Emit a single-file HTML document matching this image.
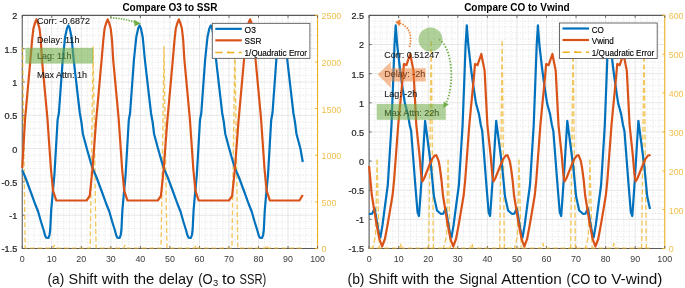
<!DOCTYPE html>
<html><head><meta charset="utf-8"><style>
html,body{margin:0;padding:0;background:#fff;}
body{width:685px;height:288px;overflow:hidden;}
svg{display:block;filter:blur(0.4px);}
text{font-family:"Liberation Sans",sans-serif;}
</style></head><body>
<svg width="685" height="288" viewBox="0 0 685 288" font-family="Liberation Sans, sans-serif">
<rect width="685" height="288" fill="#fff"/>
<g stroke="#d9d9d9" stroke-width="0.7" stroke-dasharray="1 1.6"><line x1="28.16" y1="15.4" x2="28.16" y2="248.5"/><line x1="34.06" y1="15.4" x2="34.06" y2="248.5"/><line x1="39.97" y1="15.4" x2="39.97" y2="248.5"/><line x1="45.87" y1="15.4" x2="45.87" y2="248.5"/><line x1="57.69" y1="15.4" x2="57.69" y2="248.5"/><line x1="63.59" y1="15.4" x2="63.59" y2="248.5"/><line x1="69.5" y1="15.4" x2="69.5" y2="248.5"/><line x1="75.4" y1="15.4" x2="75.4" y2="248.5"/><line x1="87.22" y1="15.4" x2="87.22" y2="248.5"/><line x1="93.12" y1="15.4" x2="93.12" y2="248.5"/><line x1="99.03" y1="15.4" x2="99.03" y2="248.5"/><line x1="104.93" y1="15.4" x2="104.93" y2="248.5"/><line x1="116.75" y1="15.4" x2="116.75" y2="248.5"/><line x1="122.65" y1="15.4" x2="122.65" y2="248.5"/><line x1="128.56" y1="15.4" x2="128.56" y2="248.5"/><line x1="134.46" y1="15.4" x2="134.46" y2="248.5"/><line x1="146.28" y1="15.4" x2="146.28" y2="248.5"/><line x1="152.18" y1="15.4" x2="152.18" y2="248.5"/><line x1="158.09" y1="15.4" x2="158.09" y2="248.5"/><line x1="163.99" y1="15.4" x2="163.99" y2="248.5"/><line x1="175.81" y1="15.4" x2="175.81" y2="248.5"/><line x1="181.71" y1="15.4" x2="181.71" y2="248.5"/><line x1="187.62" y1="15.4" x2="187.62" y2="248.5"/><line x1="193.52" y1="15.4" x2="193.52" y2="248.5"/><line x1="205.34" y1="15.4" x2="205.34" y2="248.5"/><line x1="211.24" y1="15.4" x2="211.24" y2="248.5"/><line x1="217.15" y1="15.4" x2="217.15" y2="248.5"/><line x1="223.05" y1="15.4" x2="223.05" y2="248.5"/><line x1="234.87" y1="15.4" x2="234.87" y2="248.5"/><line x1="240.77" y1="15.4" x2="240.77" y2="248.5"/><line x1="246.68" y1="15.4" x2="246.68" y2="248.5"/><line x1="252.58" y1="15.4" x2="252.58" y2="248.5"/><line x1="264.4" y1="15.4" x2="264.4" y2="248.5"/><line x1="270.3" y1="15.4" x2="270.3" y2="248.5"/><line x1="276.21" y1="15.4" x2="276.21" y2="248.5"/><line x1="282.11" y1="15.4" x2="282.11" y2="248.5"/><line x1="293.93" y1="15.4" x2="293.93" y2="248.5"/><line x1="299.83" y1="15.4" x2="299.83" y2="248.5"/><line x1="305.74" y1="15.4" x2="305.74" y2="248.5"/><line x1="311.64" y1="15.4" x2="311.64" y2="248.5"/><line x1="22.25" y1="241.84" x2="317.55" y2="241.84"/><line x1="22.25" y1="235.18" x2="317.55" y2="235.18"/><line x1="22.25" y1="228.52" x2="317.55" y2="228.52"/><line x1="22.25" y1="221.86" x2="317.55" y2="221.86"/><line x1="22.25" y1="208.54" x2="317.55" y2="208.54"/><line x1="22.25" y1="201.88" x2="317.55" y2="201.88"/><line x1="22.25" y1="195.22" x2="317.55" y2="195.22"/><line x1="22.25" y1="188.56" x2="317.55" y2="188.56"/><line x1="22.25" y1="175.24" x2="317.55" y2="175.24"/><line x1="22.25" y1="168.58" x2="317.55" y2="168.58"/><line x1="22.25" y1="161.92" x2="317.55" y2="161.92"/><line x1="22.25" y1="155.26" x2="317.55" y2="155.26"/><line x1="22.25" y1="141.94" x2="317.55" y2="141.94"/><line x1="22.25" y1="135.28" x2="317.55" y2="135.28"/><line x1="22.25" y1="128.62" x2="317.55" y2="128.62"/><line x1="22.25" y1="121.96" x2="317.55" y2="121.96"/><line x1="22.25" y1="108.64" x2="317.55" y2="108.64"/><line x1="22.25" y1="101.98" x2="317.55" y2="101.98"/><line x1="22.25" y1="95.32" x2="317.55" y2="95.32"/><line x1="22.25" y1="88.66" x2="317.55" y2="88.66"/><line x1="22.25" y1="75.34" x2="317.55" y2="75.34"/><line x1="22.25" y1="68.68" x2="317.55" y2="68.68"/><line x1="22.25" y1="62.02" x2="317.55" y2="62.02"/><line x1="22.25" y1="55.36" x2="317.55" y2="55.36"/><line x1="22.25" y1="42.04" x2="317.55" y2="42.04"/><line x1="22.25" y1="35.38" x2="317.55" y2="35.38"/><line x1="22.25" y1="28.72" x2="317.55" y2="28.72"/><line x1="22.25" y1="22.06" x2="317.55" y2="22.06"/></g>
<g stroke="#d6d6d6" stroke-width="0.6"><line x1="51.78" y1="15.4" x2="51.78" y2="248.5"/><line x1="81.31" y1="15.4" x2="81.31" y2="248.5"/><line x1="110.84" y1="15.4" x2="110.84" y2="248.5"/><line x1="140.37" y1="15.4" x2="140.37" y2="248.5"/><line x1="169.9" y1="15.4" x2="169.9" y2="248.5"/><line x1="199.43" y1="15.4" x2="199.43" y2="248.5"/><line x1="228.96" y1="15.4" x2="228.96" y2="248.5"/><line x1="258.49" y1="15.4" x2="258.49" y2="248.5"/><line x1="288.02" y1="15.4" x2="288.02" y2="248.5"/><line x1="22.25" y1="215.2" x2="317.55" y2="215.2"/><line x1="22.25" y1="181.9" x2="317.55" y2="181.9"/><line x1="22.25" y1="148.6" x2="317.55" y2="148.6"/><line x1="22.25" y1="115.3" x2="317.55" y2="115.3"/><line x1="22.25" y1="82" x2="317.55" y2="82"/><line x1="22.25" y1="48.7" x2="317.55" y2="48.7"/></g>
<path d="M22.25 15.4H317.55 M22.25 248.5H317.55 M22.25 14.9V249" stroke="#5a5a5a" stroke-width="1.1" fill="none"/>
<path d="M317.55 14.9V249" stroke="#EDB120" stroke-width="1.1" fill="none"/>
<path d="M22.25 248.5V246M22.25 15.4V17.9M51.78 248.5V246M51.78 15.4V17.9M81.31 248.5V246M81.31 15.4V17.9M110.84 248.5V246M110.84 15.4V17.9M140.37 248.5V246M140.37 15.4V17.9M169.9 248.5V246M169.9 15.4V17.9M199.43 248.5V246M199.43 15.4V17.9M228.96 248.5V246M228.96 15.4V17.9M258.49 248.5V246M258.49 15.4V17.9M288.02 248.5V246M288.02 15.4V17.9M317.55 248.5V246M317.55 15.4V17.9M22.25 248.5H24.75M22.25 215.2H24.75M22.25 181.9H24.75M22.25 148.6H24.75M22.25 115.3H24.75M22.25 82H24.75M22.25 48.7H24.75M22.25 15.4H24.75" stroke="#5a5a5a" stroke-width="0.9" fill="none"/>
<path d="M317.55 248.5H315.05M317.55 201.88H315.05M317.55 155.26H315.05M317.55 108.64H315.05M317.55 62.02H315.05M317.55 15.4H315.05" stroke="#EDB120" stroke-width="0.9" fill="none"/>
<g font-size="8.9" fill="#3a3a3a"><text x="22.25" y="262.3" text-anchor="middle">0</text><text x="51.78" y="262.3" text-anchor="middle">10</text><text x="81.31" y="262.3" text-anchor="middle">20</text><text x="110.84" y="262.3" text-anchor="middle">30</text><text x="140.37" y="262.3" text-anchor="middle">40</text><text x="169.9" y="262.3" text-anchor="middle">50</text><text x="199.43" y="262.3" text-anchor="middle">60</text><text x="228.96" y="262.3" text-anchor="middle">70</text><text x="258.49" y="262.3" text-anchor="middle">80</text><text x="288.02" y="262.3" text-anchor="middle">90</text><text x="317.55" y="262.3" text-anchor="middle">100</text></g>
<g font-size="9.1" fill="#262626" stroke="#262626" stroke-width="0.22"><text x="17.25" y="252.4" text-anchor="end">-1.5</text><text x="17.25" y="219.1" text-anchor="end">-1</text><text x="17.25" y="185.8" text-anchor="end">-0.5</text><text x="17.25" y="152.5" text-anchor="end">0</text><text x="17.25" y="119.2" text-anchor="end">0.5</text><text x="17.25" y="85.9" text-anchor="end">1</text><text x="17.25" y="52.6" text-anchor="end">1.5</text><text x="17.25" y="19.3" text-anchor="end">2</text></g>
<g font-size="8.9" fill="#EFBF4C"><text x="321.55" y="252.4">0</text><text x="321.55" y="205.78">500</text><text x="321.55" y="159.16">1000</text><text x="321.55" y="112.54">1500</text><text x="321.55" y="65.92">2000</text><text x="321.55" y="19.3">2500</text></g>
<text x="169.9" y="11" text-anchor="middle" font-weight="bold" font-size="10" fill="#000">Compare O3 to SSR</text>
<polyline points="22.55,47.5 25.2,248.1 52.94,248.1 54.14,245.2 55.34,248.1 90.17,248.1 93.12,46.5 96.08,248.1 123.81,248.1 125.01,245.2 126.21,248.1 161.04,248.1 163.99,46.5 166.95,248.1 194.69,248.1 195.89,245.2 197.09,248.1 231.91,248.1 234.87,46.5 237.82,248.1 265.56,248.1 266.76,245.2 267.96,248.1 302.79,248.1" fill="none" stroke="#EDB120" stroke-width="1.35" stroke-opacity="0.72" stroke-dasharray="5 2.6" stroke-linejoin="round"/>
<polyline points="22.25,170.34 25.2,177 30.4,191 35.1,204 38.1,211.5 41.1,222 43.9,231 45.1,235.5 46.1,237.6 48.5,237.8 49.5,235 50.2,230 51.2,210 52.1,200 54.4,175 57.6,120 58.9,113 62.7,60 65.1,37 67,28.2 68.4,25.5 69.7,28.2 71.5,37 73.7,60 79.8,113 81.4,122 82.9,134 86.8,148.5 90.9,163 93.3,170 96.4,177 101.6,191 106.3,204 109.3,211.5 112.3,222 115.1,231 116.3,235.5 117.3,237.6 119.7,237.8 120.7,235 121.4,230 122.4,210 123.3,200 125.6,175 128.8,120 130.1,113 133.9,60 136.3,37 138.2,28.2 139.6,25.5 140.9,28.2 142.7,37 144.9,60 151,113 152.6,122 154.1,134 158,148.5 162.1,163 164.5,170 167.6,177 172.8,191 177.5,204 180.5,211.5 183.5,222 186.3,231 187.5,235.5 188.5,237.6 190.9,237.8 191.9,235 192.6,230 193.6,210 194.5,200 196.8,175 200,120 201.3,113 205.1,60 207.5,37 209.4,28.2 210.8,25.5 212.1,28.2 213.9,37 216.1,60 222.2,113 223.8,122 225.3,134 229.2,148.5 233.3,163 235.7,170 238.8,177 244,191 248.7,204 251.7,211.5 254.7,222 257.5,231 258.7,235.5 259.7,237.6 262.1,237.8 263.1,235 263.8,230 264.8,210 265.7,200 268,175 271.2,120 272.5,113 276.3,60 278.7,37 280.6,28.2 282,25.5 283.3,28.2 285.1,37 287.3,60 293.4,113 295,122 296.5,134 300.4,148.5 302.79,162" fill="none" stroke="#0072BD" stroke-width="2.2" stroke-linejoin="round"/>
<polyline points="22.25,168 25,120 30.4,60 32.1,40 33.4,28.5 35,23 36.45,19.3 37.9,23 39.5,28.5 40.8,40 42,60 47.4,118 51,170 53.1,190.8 56.2,200.3 86.45,200.5 86.55,200.5 89.7,196 92.4,170 96.2,120 101.6,60 103.3,40 104.6,28.5 106.2,23 107.65,19.3 109.1,23 110.7,28.5 112,40 113.2,60 118.6,118 122.2,170 124.3,190.8 127.4,200.3 157.65,200.5 157.75,200.5 160.9,196 163.6,170 167.4,120 172.8,60 174.5,40 175.8,28.5 177.4,23 178.85,19.3 180.3,23 181.9,28.5 183.2,40 184.4,60 189.8,118 193.4,170 195.5,190.8 198.6,200.3 228.85,200.5 228.95,200.5 232.1,196 234.8,170 238.6,120 244,60 245.7,40 247,28.5 248.6,23 250.05,19.3 251.5,23 253.1,28.5 254.4,40 255.6,60 261,118 264.6,170 266.7,190.8 269.8,200.3 299.4,200.5 302.79,195" fill="none" stroke="#D95319" stroke-width="2.2" stroke-linejoin="round"/>
<rect x="212.3" y="23.35" width="97.6" height="35" fill="#fff" stroke="#5a5a5a" stroke-width="0.9"/>
<line x1="215.3" y1="28.85" x2="241.8" y2="28.85" stroke="#0072BD" stroke-width="2.2"/>
<text x="244.6" y="32.85" font-size="8.9" fill="#000" stroke="#000" stroke-width="0.15" textLength="11.3" lengthAdjust="spacingAndGlyphs">O3</text>
<line x1="215.3" y1="40.35" x2="241.8" y2="40.35" stroke="#D95319" stroke-width="2.2"/>
<text x="244.6" y="44.15" font-size="8.9" fill="#000" stroke="#000" stroke-width="0.15" textLength="16.8" lengthAdjust="spacingAndGlyphs">SSR</text>
<line x1="215.3" y1="52.55" x2="241.8" y2="52.55" stroke="#EDB120" stroke-width="1.4" stroke-dasharray="7.3 4.4"/>
<text x="244.6" y="55.95" font-size="8.9" fill="#000" stroke="#000" stroke-width="0.15" textLength="62.4" lengthAdjust="spacingAndGlyphs">1/Quadratic Error</text>
<path d="M226.8 53.15L228.4 50.95L230 53.15Z" fill="#EDB120"/>
<text x="37" y="23.8" font-size="9.5" fill="#1a1a1a" stroke="#1a1a1a" stroke-width="0.12" textLength="53" lengthAdjust="spacingAndGlyphs">Corr: -0.6872</text>
<text x="37" y="42.6" font-size="9.5" fill="#1a1a1a" stroke="#1a1a1a" stroke-width="0.12" textLength="42.4" lengthAdjust="spacingAndGlyphs">Delay: 11h</text>
<text x="37" y="77.8" font-size="9.5" fill="#1a1a1a" stroke="#1a1a1a" stroke-width="0.12" textLength="50" lengthAdjust="spacingAndGlyphs">Max Attn: 1h</text>
<text x="37" y="59.2" font-size="9.5" fill="#000" stroke="#000" stroke-width="0.12" textLength="34.4" lengthAdjust="spacingAndGlyphs">Lag: 11h</text>
<rect x="25.5" y="47.8" width="67.6" height="15.8" fill="#70AD47" fill-opacity="0.58"/>
<path d="M110.4 17.8 Q123 18.3 134.5 22" fill="none" stroke="#70ad47" stroke-width="1.7" stroke-dasharray="1.4 1.2"/>
<path d="M141 23.4 L134 19.8 L134.6 26.2 Z" fill="#70ad47"/>
<g stroke="#d9d9d9" stroke-width="0.7" stroke-dasharray="1 1.6"><line x1="375.01" y1="15.4" x2="375.01" y2="248.5"/><line x1="380.93" y1="15.4" x2="380.93" y2="248.5"/><line x1="386.84" y1="15.4" x2="386.84" y2="248.5"/><line x1="392.75" y1="15.4" x2="392.75" y2="248.5"/><line x1="404.58" y1="15.4" x2="404.58" y2="248.5"/><line x1="410.49" y1="15.4" x2="410.49" y2="248.5"/><line x1="416.4" y1="15.4" x2="416.4" y2="248.5"/><line x1="422.32" y1="15.4" x2="422.32" y2="248.5"/><line x1="434.14" y1="15.4" x2="434.14" y2="248.5"/><line x1="440.06" y1="15.4" x2="440.06" y2="248.5"/><line x1="445.97" y1="15.4" x2="445.97" y2="248.5"/><line x1="451.88" y1="15.4" x2="451.88" y2="248.5"/><line x1="463.71" y1="15.4" x2="463.71" y2="248.5"/><line x1="469.62" y1="15.4" x2="469.62" y2="248.5"/><line x1="475.53" y1="15.4" x2="475.53" y2="248.5"/><line x1="481.45" y1="15.4" x2="481.45" y2="248.5"/><line x1="493.27" y1="15.4" x2="493.27" y2="248.5"/><line x1="499.19" y1="15.4" x2="499.19" y2="248.5"/><line x1="505.1" y1="15.4" x2="505.1" y2="248.5"/><line x1="511.01" y1="15.4" x2="511.01" y2="248.5"/><line x1="522.84" y1="15.4" x2="522.84" y2="248.5"/><line x1="528.75" y1="15.4" x2="528.75" y2="248.5"/><line x1="534.66" y1="15.4" x2="534.66" y2="248.5"/><line x1="540.58" y1="15.4" x2="540.58" y2="248.5"/><line x1="552.4" y1="15.4" x2="552.4" y2="248.5"/><line x1="558.32" y1="15.4" x2="558.32" y2="248.5"/><line x1="564.23" y1="15.4" x2="564.23" y2="248.5"/><line x1="570.14" y1="15.4" x2="570.14" y2="248.5"/><line x1="581.97" y1="15.4" x2="581.97" y2="248.5"/><line x1="587.88" y1="15.4" x2="587.88" y2="248.5"/><line x1="593.79" y1="15.4" x2="593.79" y2="248.5"/><line x1="599.71" y1="15.4" x2="599.71" y2="248.5"/><line x1="611.53" y1="15.4" x2="611.53" y2="248.5"/><line x1="617.45" y1="15.4" x2="617.45" y2="248.5"/><line x1="623.36" y1="15.4" x2="623.36" y2="248.5"/><line x1="629.27" y1="15.4" x2="629.27" y2="248.5"/><line x1="641.1" y1="15.4" x2="641.1" y2="248.5"/><line x1="647.01" y1="15.4" x2="647.01" y2="248.5"/><line x1="652.92" y1="15.4" x2="652.92" y2="248.5"/><line x1="658.84" y1="15.4" x2="658.84" y2="248.5"/><line x1="369.1" y1="242.67" x2="664.75" y2="242.67"/><line x1="369.1" y1="236.84" x2="664.75" y2="236.84"/><line x1="369.1" y1="231.02" x2="664.75" y2="231.02"/><line x1="369.1" y1="225.19" x2="664.75" y2="225.19"/><line x1="369.1" y1="213.53" x2="664.75" y2="213.53"/><line x1="369.1" y1="207.71" x2="664.75" y2="207.71"/><line x1="369.1" y1="201.88" x2="664.75" y2="201.88"/><line x1="369.1" y1="196.05" x2="664.75" y2="196.05"/><line x1="369.1" y1="184.4" x2="664.75" y2="184.4"/><line x1="369.1" y1="178.57" x2="664.75" y2="178.57"/><line x1="369.1" y1="172.74" x2="664.75" y2="172.74"/><line x1="369.1" y1="166.91" x2="664.75" y2="166.91"/><line x1="369.1" y1="155.26" x2="664.75" y2="155.26"/><line x1="369.1" y1="149.43" x2="664.75" y2="149.43"/><line x1="369.1" y1="143.61" x2="664.75" y2="143.61"/><line x1="369.1" y1="137.78" x2="664.75" y2="137.78"/><line x1="369.1" y1="126.12" x2="664.75" y2="126.12"/><line x1="369.1" y1="120.29" x2="664.75" y2="120.29"/><line x1="369.1" y1="114.47" x2="664.75" y2="114.47"/><line x1="369.1" y1="108.64" x2="664.75" y2="108.64"/><line x1="369.1" y1="96.98" x2="664.75" y2="96.98"/><line x1="369.1" y1="91.16" x2="664.75" y2="91.16"/><line x1="369.1" y1="85.33" x2="664.75" y2="85.33"/><line x1="369.1" y1="79.5" x2="664.75" y2="79.5"/><line x1="369.1" y1="67.85" x2="664.75" y2="67.85"/><line x1="369.1" y1="62.02" x2="664.75" y2="62.02"/><line x1="369.1" y1="56.19" x2="664.75" y2="56.19"/><line x1="369.1" y1="50.36" x2="664.75" y2="50.36"/><line x1="369.1" y1="38.71" x2="664.75" y2="38.71"/><line x1="369.1" y1="32.88" x2="664.75" y2="32.88"/><line x1="369.1" y1="27.05" x2="664.75" y2="27.05"/><line x1="369.1" y1="21.23" x2="664.75" y2="21.23"/></g>
<g stroke="#d6d6d6" stroke-width="0.6"><line x1="398.67" y1="15.4" x2="398.67" y2="248.5"/><line x1="428.23" y1="15.4" x2="428.23" y2="248.5"/><line x1="457.8" y1="15.4" x2="457.8" y2="248.5"/><line x1="487.36" y1="15.4" x2="487.36" y2="248.5"/><line x1="516.92" y1="15.4" x2="516.92" y2="248.5"/><line x1="546.49" y1="15.4" x2="546.49" y2="248.5"/><line x1="576.06" y1="15.4" x2="576.06" y2="248.5"/><line x1="605.62" y1="15.4" x2="605.62" y2="248.5"/><line x1="635.18" y1="15.4" x2="635.18" y2="248.5"/><line x1="369.1" y1="219.36" x2="664.75" y2="219.36"/><line x1="369.1" y1="190.22" x2="664.75" y2="190.22"/><line x1="369.1" y1="161.09" x2="664.75" y2="161.09"/><line x1="369.1" y1="131.95" x2="664.75" y2="131.95"/><line x1="369.1" y1="102.81" x2="664.75" y2="102.81"/><line x1="369.1" y1="73.67" x2="664.75" y2="73.67"/><line x1="369.1" y1="44.54" x2="664.75" y2="44.54"/></g>
<path d="M369.1 15.4H664.75 M369.1 248.5H664.75 M369.1 14.9V249" stroke="#5a5a5a" stroke-width="1.1" fill="none"/>
<path d="M664.75 14.9V249" stroke="#EDB120" stroke-width="1.1" fill="none"/>
<path d="M369.1 248.5V246M369.1 15.4V17.9M398.67 248.5V246M398.67 15.4V17.9M428.23 248.5V246M428.23 15.4V17.9M457.8 248.5V246M457.8 15.4V17.9M487.36 248.5V246M487.36 15.4V17.9M516.92 248.5V246M516.92 15.4V17.9M546.49 248.5V246M546.49 15.4V17.9M576.06 248.5V246M576.06 15.4V17.9M605.62 248.5V246M605.62 15.4V17.9M635.18 248.5V246M635.18 15.4V17.9M664.75 248.5V246M664.75 15.4V17.9M369.1 248.5H371.6M369.1 219.36H371.6M369.1 190.22H371.6M369.1 161.09H371.6M369.1 131.95H371.6M369.1 102.81H371.6M369.1 73.67H371.6M369.1 44.54H371.6M369.1 15.4H371.6" stroke="#5a5a5a" stroke-width="0.9" fill="none"/>
<path d="M664.75 248.5H662.25M664.75 209.65H662.25M664.75 170.8H662.25M664.75 131.95H662.25M664.75 93.1H662.25M664.75 54.25H662.25M664.75 15.4H662.25" stroke="#EDB120" stroke-width="0.9" fill="none"/>
<g font-size="8.9" fill="#3a3a3a"><text x="369.1" y="262.3" text-anchor="middle">0</text><text x="398.67" y="262.3" text-anchor="middle">10</text><text x="428.23" y="262.3" text-anchor="middle">20</text><text x="457.8" y="262.3" text-anchor="middle">30</text><text x="487.36" y="262.3" text-anchor="middle">40</text><text x="516.92" y="262.3" text-anchor="middle">50</text><text x="546.49" y="262.3" text-anchor="middle">60</text><text x="576.06" y="262.3" text-anchor="middle">70</text><text x="605.62" y="262.3" text-anchor="middle">80</text><text x="635.18" y="262.3" text-anchor="middle">90</text><text x="664.75" y="262.3" text-anchor="middle">100</text></g>
<g font-size="9.1" fill="#262626" stroke="#262626" stroke-width="0.22"><text x="364.1" y="252.4" text-anchor="end">-1.5</text><text x="364.1" y="223.26" text-anchor="end">-1</text><text x="364.1" y="194.12" text-anchor="end">-0.5</text><text x="364.1" y="164.99" text-anchor="end">0</text><text x="364.1" y="135.85" text-anchor="end">0.5</text><text x="364.1" y="106.71" text-anchor="end">1</text><text x="364.1" y="77.58" text-anchor="end">1.5</text><text x="364.1" y="48.44" text-anchor="end">2</text><text x="364.1" y="19.3" text-anchor="end">2.5</text></g>
<g font-size="8.9" fill="#EFBF4C"><text x="668.75" y="252.4">0</text><text x="668.75" y="213.55">100</text><text x="668.75" y="174.7">200</text><text x="668.75" y="135.85">300</text><text x="668.75" y="97">400</text><text x="668.75" y="58.15">500</text><text x="668.75" y="19.3">600</text></g>
<text x="516.92" y="11" text-anchor="middle" font-weight="bold" font-size="10" fill="#000">Compare CO to Vwind</text>
<polyline points="369.1,248.1 372.58,248.1 379.28,248.1 399.83,248.1 401.03,243.5 402.23,248.1 428.79,248.1 433.39,248.1 443.54,248.1 450.24,248.1 470.79,248.1 471.99,243.5 473.19,248.1 499.74,248.1 504.34,248.1 514.49,248.1 521.19,248.1 541.74,248.1 542.94,243.5 544.14,248.1 570.7,248.1 575.3,248.1 585.45,248.1 592.15,248.1 612.7,248.1 613.9,243.5 615.1,248.1 641.65,248.1 646.25,248.1 649.97,248.1" fill="none" stroke="#EDB120" stroke-width="1.35" stroke-opacity="0.72" stroke-dasharray="5 2.6" stroke-linejoin="round"/>
<path d="M377.08 159.5L375.58 236L372.58 248.1M377.08 159.5L379.28 248.1M431.19 41L428.79 248.1M431.19 41L433.39 248.1M448.04 159.5L446.54 236L443.54 248.1M448.04 159.5L450.24 248.1M502.14 41L499.74 248.1M502.14 41L504.34 248.1M518.99 159.5L517.49 236L514.49 248.1M518.99 159.5L521.19 248.1M573.1 41L570.7 248.1M573.1 41L575.3 248.1M589.95 159.5L588.45 236L585.45 248.1M589.95 159.5L592.15 248.1M644.05 41L641.65 248.1M644.05 41L646.25 248.1" fill="none" stroke="#EDB120" stroke-width="1.35" stroke-opacity="0.72" stroke-dasharray="5.2 2.6"/>
<polyline points="369.1,213.3 369.9,214 372.2,213.6 374.6,208.3 377.2,224 379.5,236.8 380.4,237.4 382.5,225 384.9,206.5 387.8,185 391.5,125 393.4,75 394.5,45 395.7,25.3 397.2,45 400.1,70 402,84.3 404.9,103.4 407.8,113.9 409.7,125 411.15,131 414.9,180 417.5,212 419,216 420.4,196.3 421.5,180 425.1,120.8 430.9,165 433.9,196.3 437,210.5 441,214 443.3,213.6 445.7,208.3 448.3,224 450.6,236.8 451.5,237.4 453.6,225 456,206.5 458.9,185 462.6,125 464.5,75 465.6,45 466.8,25.3 468.3,45 471.2,70 473.1,84.3 476,103.4 478.9,113.9 480.8,125 482.25,131 486,180 488.6,212 490.1,216 491.5,196.3 492.6,180 496.2,120.8 502,165 505,196.3 508.1,210.5 512.1,214 514.4,213.6 516.8,208.3 519.4,224 521.7,236.8 522.6,237.4 524.7,225 527.1,206.5 530,185 533.7,125 535.6,75 536.7,45 537.9,25.3 539.4,45 542.3,70 544.2,84.3 547.1,103.4 550,113.9 551.9,125 553.35,131 557.1,180 559.7,212 561.2,216 562.6,196.3 563.7,180 567.3,120.8 573.1,165 576.1,196.3 579.2,210.5 583.2,214 585.5,213.6 587.9,208.3 590.5,224 592.8,236.8 593.7,237.4 595.8,225 598.2,206.5 601.1,185 604.8,125 606.7,75 607.8,45 609,25.3 610.5,45 613.4,70 615.3,84.3 618.2,103.4 621.1,113.9 623,125 624.45,131 628.2,180 630.8,212 632.3,216 633.7,196.3 634.8,180 638.4,120.8 644.2,165 647.2,196.3 649.97,208.98" fill="none" stroke="#0072BD" stroke-width="2.2" stroke-linejoin="round"/>
<polyline points="369.1,166 371.8,195 376.4,223.6 379.4,239 382.1,246.5 384.9,239 387.8,223.6 392.6,195 394.1,180 398.2,125 403,75 403.9,64 406.4,65.2 410.2,54 413.5,70.6 416.3,125 419.5,155.2 421.2,175 422.4,181.5 424.1,178.5 425.9,174 429.4,165.2 432,159.1 434.6,155.6 436.3,155.2 438.6,160.8 439.9,168 441.6,181 442.9,195 447.5,223.6 450.5,239 453.2,246.5 456,239 458.9,223.6 463.7,195 465.2,180 469.3,125 474.1,75 475,64 477.5,65.2 481.3,54 484.6,70.6 487.4,125 490.6,155.2 492.3,175 493.5,181.5 495.2,178.5 497,174 500.5,165.2 503.1,159.1 505.7,155.6 507.4,155.2 509.7,160.8 511,168 512.7,181 514,195 518.6,223.6 521.6,239 524.3,246.5 527.1,239 530,223.6 534.8,195 536.3,180 540.4,125 545.2,75 546.1,64 548.6,65.2 552.4,54 555.7,70.6 558.5,125 561.7,155.2 563.4,175 564.6,181.5 566.3,178.5 568.1,174 571.6,165.2 574.2,159.1 576.8,155.6 578.5,155.2 580.8,160.8 582.1,168 583.8,181 585.1,195 589.7,223.6 592.7,239 595.4,246.5 598.2,239 601.1,223.6 605.9,195 607.4,180 611.5,125 616.3,75 617.2,64 619.7,65.2 623.5,54 626.8,70.6 629.6,125 632.8,155.2 634.5,175 635.7,181.5 637.4,178.5 639.2,174 642.7,165.2 645.3,159.1 647.9,155.6 649.6,155.2 649.97,156.09" fill="none" stroke="#D95319" stroke-width="2.2" stroke-linejoin="round"/>
<rect x="559.5" y="23" width="97.7" height="35.5" fill="#fff" stroke="#5a5a5a" stroke-width="0.9"/>
<line x1="562.5" y1="28.5" x2="589" y2="28.5" stroke="#0072BD" stroke-width="2.2"/>
<text x="591.8" y="32.5" font-size="8.9" fill="#000" stroke="#000" stroke-width="0.15" textLength="12.1" lengthAdjust="spacingAndGlyphs">CO</text>
<line x1="562.5" y1="40" x2="589" y2="40" stroke="#D95319" stroke-width="2.2"/>
<text x="591.8" y="43.8" font-size="8.9" fill="#000" stroke="#000" stroke-width="0.15" textLength="22" lengthAdjust="spacingAndGlyphs">Vwind</text>
<line x1="562.5" y1="52.2" x2="589" y2="52.2" stroke="#EDB120" stroke-width="1.4" stroke-dasharray="7.3 4.4"/>
<text x="591.8" y="55.6" font-size="8.9" fill="#000" stroke="#000" stroke-width="0.15" textLength="62.4" lengthAdjust="spacingAndGlyphs">1/Quadratic Error</text>
<path d="M574 52.8L575.6 50.6L577.2 52.8Z" fill="#EDB120"/>
<circle cx="430.5" cy="39.5" r="12" fill="#70AD47" fill-opacity="0.55"/>
<path d="M409.4 47 C412.5 36 409.5 26.5 400 23.3" fill="none" stroke="#ed7d31" stroke-width="1.7" stroke-dasharray="1.4 1.3"/>
<path d="M395.4 21.9 L400.6 19.3 L399.6 26.2 Z" fill="#ed7d31"/>
<path d="M439 39.5 C452 47 455 82 446.6 102" fill="none" stroke="#70ad47" stroke-width="1.8" stroke-dasharray="1.5 1.6"/>
<path d="M443.2 108 L443.7 101.4 L448.8 104.4 Z" fill="#70ad47"/>
<text x="384.2" y="58.2" font-size="9.5" fill="#1a1a1a" stroke="#1a1a1a" stroke-width="0.12" textLength="55" lengthAdjust="spacingAndGlyphs">Corr: 0.51247</text>
<text x="384.2" y="77.1" font-size="9.5" fill="#000" stroke="#000" stroke-width="0.12" textLength="41" lengthAdjust="spacingAndGlyphs">Delay: -2h</text>
<path d="M377.6 74.6 L390.8 62 L390.8 68.3 L425.7 68.3 L425.7 81.5 L390.8 81.5 L390.8 87.8 Z" fill="#ED7D31" fill-opacity="0.5"/>
<text x="384.2" y="97.4" font-size="9.5" fill="#1a1a1a" stroke="#1a1a1a" stroke-width="0.12" textLength="33" lengthAdjust="spacingAndGlyphs">Lag: -2h</text>
<text x="384.2" y="115.7" font-size="9.5" fill="#000" stroke="#000" stroke-width="0.12" textLength="55" lengthAdjust="spacingAndGlyphs">Max Attn: 22h</text>
<rect x="376.7" y="104" width="69.1" height="15.8" fill="#70AD47" fill-opacity="0.55"/>
<g font-size="14.2" fill="#111"><text x="47.5" y="284" textLength="16.7" lengthAdjust="spacingAndGlyphs">(a)</text><text x="68.5" y="284" textLength="28.9" lengthAdjust="spacingAndGlyphs">Shift</text><text x="101.7" y="284" textLength="27.5" lengthAdjust="spacingAndGlyphs">with</text><text x="133.7" y="284" textLength="20.7" lengthAdjust="spacingAndGlyphs">the</text><text x="158.8" y="284" textLength="34.5" lengthAdjust="spacingAndGlyphs">delay</text><text x="198.2" y="284" textLength="14.5" lengthAdjust="spacingAndGlyphs">(O</text><text x="221.9" y="284" textLength="13.5" lengthAdjust="spacingAndGlyphs">to</text><text x="239.6" y="284" textLength="26.6" lengthAdjust="spacingAndGlyphs">SSR)</text><text x="347.5" y="284" textLength="17" lengthAdjust="spacingAndGlyphs">(b)</text><text x="368.5" y="284" textLength="29.3" lengthAdjust="spacingAndGlyphs">Shift</text><text x="401.7" y="284" textLength="27.5" lengthAdjust="spacingAndGlyphs">with</text><text x="433.7" y="284" textLength="20.9" lengthAdjust="spacingAndGlyphs">the</text><text x="459.2" y="284" textLength="38" lengthAdjust="spacingAndGlyphs">Signal</text><text x="501.3" y="284" textLength="60.6" lengthAdjust="spacingAndGlyphs">Attention</text><text x="566.6" y="284" textLength="23.6" lengthAdjust="spacingAndGlyphs">(CO</text><text x="593.8" y="284" textLength="13.2" lengthAdjust="spacingAndGlyphs">to</text><text x="611.2" y="284" textLength="51.1" lengthAdjust="spacingAndGlyphs">V-wind)</text><text x="213.1" y="285.6" font-size="8.2" textLength="5.2" lengthAdjust="spacingAndGlyphs">3</text></g>
</svg>
</body></html>
